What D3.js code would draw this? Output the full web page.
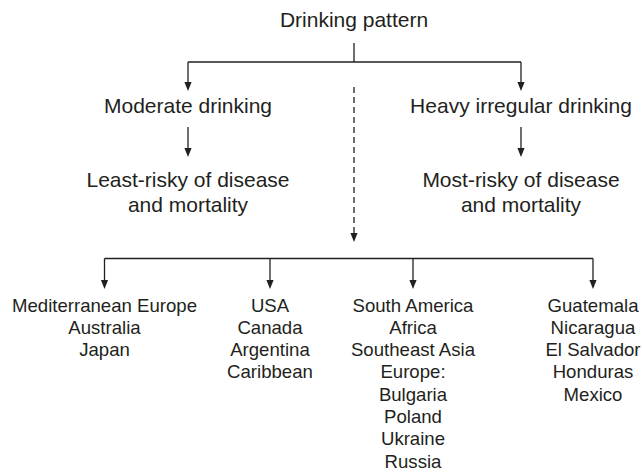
<!DOCTYPE html>
<html>
<head>
<meta charset="utf-8">
<script src="https://cdn.jsdelivr.net/npm/d3@7"></script>
<style>
  body { margin: 0; background: #fff; }
  text { font-family: "Liberation Sans", Arial, Helvetica, sans-serif; fill: #231f20; }
</style>
</head>
<body>
<div class="canvas"></div>
<script>
// chart content
var title = "Drinking pattern";
var patterns = ["Moderate drinking", "Heavy irregular drinking"];
var outcomes = [["Least-risky of disease", "and mortality"], ["Most-risky of disease", "and mortality"]];
var groups = [
	["Mediterranean Europe", "Australia", "Japan"],
	["USA", "Canada", "Argentina", "Caribbean"],
	["South America", "Africa", "Southeast Asia", "Europe:", "Bulgaria", "Poland", "Ukraine", "Russia"],
	["Guatemala", "Nicaragua", "El Salvador", "Honduras", "Mexico"]
];

// layout
var W = 643, H = 473;
var ink = "#231f20";
var centreX = 354;
var branchX = d3.scaleOrdinal().domain(patterns).range([188, 521]);
var groupX = d3.scaleOrdinal().domain(d3.range(groups.length)).range([104.5, 270, 413, 593]);
var lineY = d3.scaleLinear().domain([0, 1]).range([311.5, 333.8]);

var svg = d3.select(".canvas")
	.append("svg")
	.attr("width", W)
	.attr("height", H);

function line(x1, y1, x2, y2, dash) {
	svg.append("line")
		.attr("x1", x1).attr("y1", y1)
		.attr("x2", x2).attr("y2", y2)
		.attr("stroke", ink)
		.attr("stroke-width", 1.3)
		.attr("stroke-dasharray", dash || null);
}

function arrow(x, y1, y2, dash) {
	line(x, y1, x, y2 - 6, dash);
	svg.append("path")
		.attr("d", "M" + (x - 3.6) + "," + (y2 - 9) + "L" + (x + 3.6) + "," + (y2 - 9) + "L" + x + "," + y2 + "Z")
		.attr("fill", ink);
}

// TITLE
svg.append("text")
	.attr("x", centreX)
	.attr("y", 26.7)
	.attr("text-anchor", "middle")
	.style("font-size", "21px")
	.text(title);

line(centreX, 43, centreX, 62);
line(branchX(patterns[0]), 62, branchX(patterns[1]), 62);

// TWO BRANCHES
patterns.forEach(function(p, i) {
	var x = branchX(p);
	arrow(x, 62, 91);
	svg.append("text")
		.attr("x", x)
		.attr("y", 113)
		.attr("text-anchor", "middle")
		.style("font-size", "21px")
		.text(p);
	arrow(x, 127, 157);
	outcomes[i].forEach(function(t, j) {
		svg.append("text")
			.attr("x", x)
			.attr("y", 187.3 + j * 24.4)
			.attr("text-anchor", "middle")
			.style("font-size", "21px")
			.text(t);
	});
});

// DASHED ARROW TO REGIONS
arrow(centreX, 87, 242, "6,4");

line(groupX(0), 258.5, groupX(groups.length - 1), 258.5);

// REGION GROUPS
groups.forEach(function(g, i) {
	var x = groupX(i);
	arrow(x, 258.5, 289);
	svg.selectAll(null)
		.data(g)
		.enter()
		.append("text")
		.attr("x", x)
		.attr("y", function(d, j) { return lineY(j); })
		.attr("text-anchor", "middle")
		.style("font-size", "18.6px")
		.text(function(d) { return d; });
});
</script>
</body>
</html>
